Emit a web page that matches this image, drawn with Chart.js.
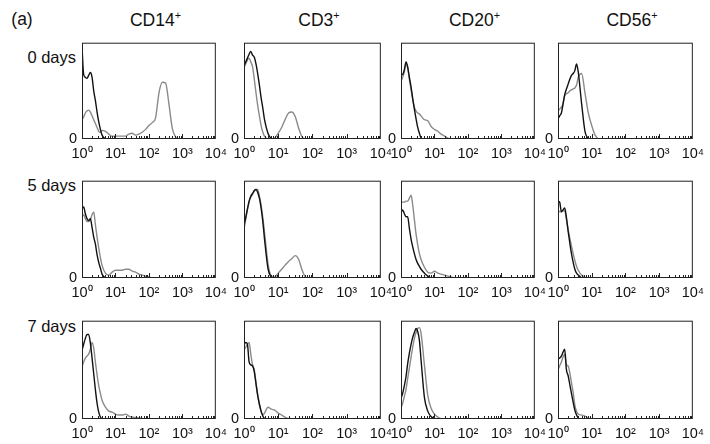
<!DOCTYPE html>
<html>
<head>
<meta charset="utf-8">
<script src="https://cdn.jsdelivr.net/npm/chart.js@4.4.1/dist/chart.umd.min.js"></script>
<style>
  body { margin: 0; background: #fff; }
  #fig { position: relative; width: 710px; height: 444px; overflow: hidden;
         font-family: "Liberation Sans", Arial, sans-serif; color: #111; }
  .txt { position: absolute; white-space: nowrap; transform: translate(-50%, -50%); }
  .txt sup { font-size: 62%; vertical-align: 0.6em; line-height: 0; }
  .row { transform: translate(-100%, -50%); font-size: 16.5px; }
  .col { font-size: 17.5px; }
  .panel { position: absolute; }
</style>
</head>
<body>
<div id="fig"></div>
<script>
// fluorescence channel (log scale) where the histograms were read
const channels = [1, 1.12, 1.26, 1.41, 1.58, 1.78, 2.0, 2.24, 2.51, 2.82, 3.16, 3.55, 3.98,
  5.01, 6.31, 7.94, 10, 12.6, 15.8, 20, 25.1, 31.6, 39.8, 50.1, 63.1, 79.4,
  100, 126, 158, 200, 251, 316, 398, 501, 631, 794, 1000];

const markers = ["CD14", "CD3", "CD20", "CD56"];
const days = ["0 days", "5 days", "7 days"];
const tickValues = [1, 10, 100, 1000, 10000];
const tickLabels = ["10\u2070", "10\u00B9", "10\u00B2", "10\u00B3", "10\u2074"];

// black = control, grey = stained (% of panel height)
const cd14Day0Black = [96, 67, 64, 63, 66, 69, 64, 50, 40, 28, 18, 10, 4, 0];
const cd14Day0Grey = [20, 23, 27, 29, 30, 28, 24, 20, 16, 12, 8, 7, 9, 8, 5, 3, 3, 3, 3, 3, 5, 6, 4, 5, 7, 10, 14, 17, 22, 48, 59, 58, 36, 11, 2, 0];
const cd3Day0Black = [76, 80, 84, 88, 91, 87, 85, 78, 68, 56, 43, 32, 20, 6, 0];
const cd3Day0Grey = [74, 78, 82, 84, 80, 75, 62, 48, 35, 24, 14, 7, 3, 0, 0, 1, 6, 12, 20, 27, 28, 23, 11, 2, 0];
const cd20Day0Black = [67, 67, 72, 80, 75, 64, 54, 42, 31, 21, 12, 6, 1, 0];
const cd20Day0Grey = [60, 64, 70, 78, 74, 62, 51, 41, 33, 29, 27, 26, 24, 20, 19, 13, 10, 8, 5, 3, 1, 0];
const cd56Day0Black = [21, 24, 27, 36, 46, 52, 57, 62, 66, 68, 71, 78, 70, 37, 8, 0];
const cd56Day0Grey = [29, 31, 33, 37, 45, 47, 48, 50, 51, 52, 53, 56, 64, 68, 48, 27, 14, 4, 0];

const cd14Day5Black = [71, 73, 66, 61, 59, 61, 52, 42, 35, 24, 16, 10, 4, 0];
const cd14Day5Grey = [63, 65, 61, 58, 58, 60, 65, 68, 55, 42, 31, 21, 13, 5, 3, 6, 8, 8, 8, 9, 9, 7, 6, 4, 3, 2, 1, 0];
const cd3Day5Black = [54, 62, 71, 79, 84, 87, 90, 91, 88, 82, 72, 58, 40, 10, 0];
const cd3Day5Grey = [50, 60, 70, 78, 83, 86, 89, 91, 91, 84, 75, 62, 47, 15, 2, 1, 5, 9, 13, 17, 20, 23, 19, 8, 1, 0];
const cd20Day5Black = [67, 70, 66, 63, 63, 51, 40, 32, 25, 19, 15, 12, 9, 5, 2, 0];
const cd20Day5Grey = [78, 78, 78, 79, 79, 82, 85, 75, 60, 45, 34, 25, 19, 11, 6, 5, 7, 5, 4, 3, 2, 1, 0];
const cd56Day5Black = [79, 78, 68, 70, 72, 62, 48, 36, 25, 16, 9, 5, 3, 0];
const cd56Day5Grey = [70, 68, 68, 69, 69, 60, 50, 41, 33, 25, 18, 12, 8, 3, 1, 0];

const cd14Day7Black = [70, 76, 82, 86, 86, 77, 62, 46, 30, 16, 7, 2, 0];
const cd14Day7Grey = [53, 58, 62, 64, 66, 71, 78, 72, 58, 45, 34, 26, 19, 12, 8, 7, 5, 4, 4, 5, 3, 2, 1.5, 1, 0.5, 0];
const cd3Day7Black = [75, 78, 76, 58, 55, 54, 48, 36, 24, 15, 8, 3, 0.5, 0];
const cd3Day7Grey = [70, 73, 76, 78, 66, 55, 50, 37, 25, 15, 8, 4, 6, 12, 10, 9, 6, 4, 2, 0.5, 0];
const cd20Day7Black = [21, 26, 34, 43, 56, 67, 76, 83, 88, 92, 89, 80, 60, 22, 8, 2.5, 0.5, 0];
const cd20Day7Grey = [11, 16, 23, 30, 41, 52, 63, 73, 82, 88, 92, 93, 87, 55, 24, 11, 5, 2, 0];
const cd56Day7Black = [61, 62, 64, 68, 71, 50, 44, 35, 26, 17, 9, 4, 1, 0];
const cd56Day7Grey = [50, 54, 58, 63, 66, 55, 54, 47, 37, 27, 14, 8, 5, 4, 3, 1, 0];

const panels = [
  [[cd14Day0Black, cd14Day0Grey], [cd3Day0Black, cd3Day0Grey], [cd20Day0Black, cd20Day0Grey], [cd56Day0Black, cd56Day0Grey]],
  [[cd14Day5Black, cd14Day5Grey], [cd3Day5Black, cd3Day5Grey], [cd20Day5Black, cd20Day5Grey], [cd56Day5Black, cd56Day5Grey]],
  [[cd14Day7Black, cd14Day7Grey], [cd3Day7Black, cd3Day7Grey], [cd20Day7Black, cd20Day7Grey], [cd56Day7Black, cd56Day7Grey]]
];

// layout of the panel boxes on the page
const colLeft = [82, 244, 401, 558];
const colRight = [219, 384, 538, 696];
const rowTop = [33, 171, 311];
const rowBottom = [139, 278, 419];
const rowLabelY = [57, 185, 326];

const font = "'Liberation Sans', Arial, sans-serif";
const fig = document.getElementById("fig");

function addText(html, cls, x, y) {
  const d = document.createElement("div");
  d.className = "txt " + cls;
  d.innerHTML = html;
  d.style.left = x + "px";
  d.style.top = y + "px";
  fig.appendChild(d);
}

addText("(a)", "col", 22, 19);
markers.forEach((m, c) => addText(m + "<sup>+</sup>", "col", (colLeft[c] + colRight[c]) / 2 + 5, 20));
days.forEach((d, r) => addText(d, "row", 76, rowLabelY[r]));

// box frame plus the small inward log ticks along the bottom
const framePlugin = {
  id: "frame",
  afterDatasetsDraw(chart) {
    const { ctx, chartArea: a, scales: { x } } = chart;
    ctx.save();
    ctx.strokeStyle = "#222";
    ctx.lineWidth = 1;
    ctx.strokeRect(a.left + 0.5, a.top + 0.5, a.width - 1, a.height - 1);
    ctx.beginPath();
    for (let d = 0; d < 4; d++) {
      for (let m = 1; m <= 9; m++) {
        const px = Math.round(x.getPixelForValue(Math.pow(10, d) * m)) + 0.5;
        const len = m === 1 ? 5 : 3;
        ctx.moveTo(px, a.bottom);
        ctx.lineTo(px, a.bottom - len);
      }
    }
    ctx.stroke();
    ctx.restore();
  }
};

const padL = 18, padT = 4, padR = 14, padB = 26;

function toPoints(ys) {
  return ys.map((y, i) => ({ x: channels[i], y: y }));
}

function makePanel(r, c) {
  const [black, grey] = panels[r][c];
  const w = colRight[c] - colLeft[c];
  const h = rowBottom[r] - rowTop[r];
  const wrap = document.createElement("div");
  wrap.className = "panel";
  wrap.style.left = (colLeft[c] - padL) + "px";
  wrap.style.top = (rowTop[r] - padT) + "px";
  const cv = document.createElement("canvas");
  cv.width = w + padL + padR;
  cv.height = h + padT + padB;
  wrap.appendChild(cv);
  fig.appendChild(wrap);

  new Chart(cv, {
    type: "line",
    data: {
      datasets: [
        { data: toPoints(black), borderColor: "#111", borderWidth: 1.4 },
        { data: toPoints(grey), borderColor: "#8a8a8a", borderWidth: 1.4 }
      ]
    },
    options: {
      responsive: false,
      animation: false,
      layout: { padding: { left: 0, top: padT, right: padR, bottom: 0 } },
      plugins: { legend: { display: false }, tooltip: { enabled: false } },
      elements: {
        point: { radius: 0 },
        line: { cubicInterpolationMode: "monotone" }
      },
      scales: {
        x: {
          type: "logarithmic",
          min: 1,
          max: 10000,
          grid: { display: false, drawTicks: false },
          border: { display: false },
          afterBuildTicks: s => { s.ticks = tickValues.map(v => ({ value: v })); },
          afterFit: s => { s.height = padB; },
          ticks: {
            autoSkip: false,
            maxRotation: 0,
            padding: 6,
            color: "#111",
            font: { family: font, size: 14.5 },
            callback: (v, i) => tickLabels[i]
          }
        },
        y: {
          min: 0,
          max: 100,
          grid: { display: false, drawTicks: false },
          border: { display: false },
          afterBuildTicks: s => { s.ticks = [{ value: 0 }]; },
          afterFit: s => { s.width = padL; },
          ticks: {
            padding: 5,
            color: "#111",
            font: { family: font, size: 14.5 },
            callback: () => "0"
          }
        }
      }
    },
    plugins: [framePlugin]
  });
}

for (let r = 0; r < 3; r++) {
  for (let c = 0; c < 4; c++) makePanel(r, c);
}
</script>
</body>
</html>
